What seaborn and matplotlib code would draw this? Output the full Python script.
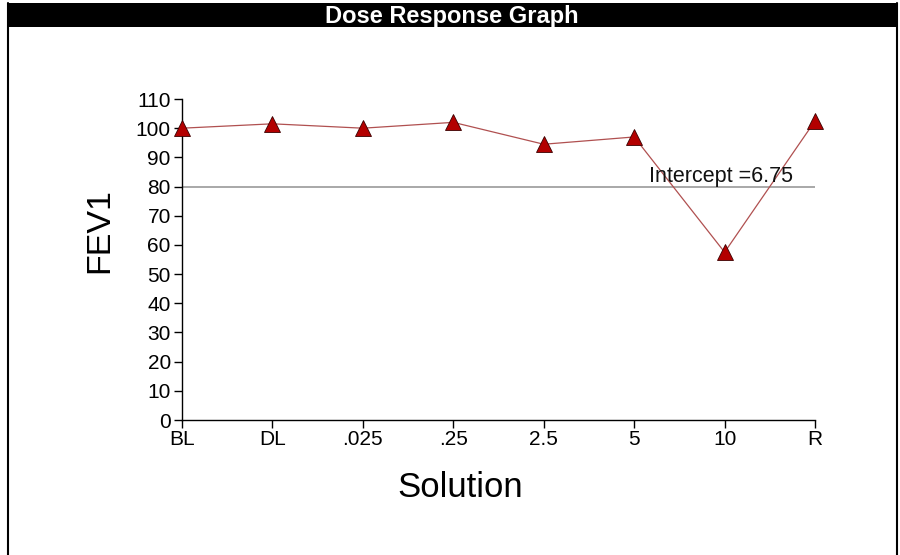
import matplotlib
matplotlib.use("Agg")
import matplotlib.pyplot as plt
import seaborn as sns
import pandas as pd
from matplotlib.patches import Rectangle
from matplotlib.lines import Line2D

solutions = ["BL", "DL", ".025", ".25", "2.5", "5", "10", "R"]
fev1 = [100, 101.5, 100, 102, 94.5, 97, 57.5, 102.5]
y_ticks = [0, 10, 20, 30, 40, 50, 60, 70, 80, 90, 100, 110]
threshold = 80
intercept_label = "Intercept =6.75"

sns.set_theme(style="white")
plt.rcParams["font.family"] = ["Liberation Sans", "DejaVu Sans"]

df = pd.DataFrame({"pos": range(len(solutions)), "FEV1": fev1})

fig = plt.figure(figsize=(9, 5.55), dpi=100)
ax = fig.add_axes([0.2022, 0.2432, 0.7034, 0.5784])

ax.axhline(threshold, color="#999999", lw=1.2, zorder=1)
sns.lineplot(data=df, x="pos", y="FEV1", ax=ax, color="#b05050", lw=0.9,
             marker="^", markersize=11, markerfacecolor="#b30000",
             markeredgecolor="#3a0000", markeredgewidth=0.6, clip_on=False, zorder=3)

ax.text(5.96, 81.4, intercept_label, fontsize=15.5, color="#111111",
        ha="center", va="baseline")

ax.set_xlim(0, len(solutions) - 1)
ax.set_ylim(0, 110)
ax.set_xticks(range(len(solutions)))
ax.set_xticklabels(solutions)
ax.set_yticks(y_ticks)
ax.tick_params(axis="both", labelsize=15, colors="black", length=6, width=1,
               direction="out", pad=2)
ax.tick_params(axis="x", bottom=True, pad=1)
ax.tick_params(axis="y", left=True)
for side in ["top", "right"]:
    ax.spines[side].set_visible(False)
for side in ["left", "bottom"]:
    ax.spines[side].set_color("black")
    ax.spines[side].set_linewidth(1)

ax.set_xlabel("Solution", fontsize=25, color="black")
ax.set_ylabel("FEV1", fontsize=24.5, color="black")
ax.xaxis.set_label_coords(0.439, -0.158)
ax.yaxis.set_label_coords(-0.105, 0.589)

# frame and title bar
fig.patches.append(Rectangle((7 / 900, 1 - 27 / 555), 890 / 900, 24 / 555,
                             transform=fig.transFigure, facecolor="black",
                             edgecolor="none"))
fig.lines.append(Line2D([7.5 / 900, 7.5 / 900], [0, 1 - 3 / 555], transform=fig.transFigure,
                        color="black", lw=1.5))
fig.lines.append(Line2D([896.5 / 900, 896.5 / 900], [0, 1 - 3 / 555], transform=fig.transFigure,
                        color="black", lw=1.5))
fig.text(452 / 900, 1 - 16 / 555, "Dose Response Graph", color="white",
         fontsize=17, fontweight="bold", ha="center", va="center")

fig.savefig("out.png", dpi=100, facecolor="white")
